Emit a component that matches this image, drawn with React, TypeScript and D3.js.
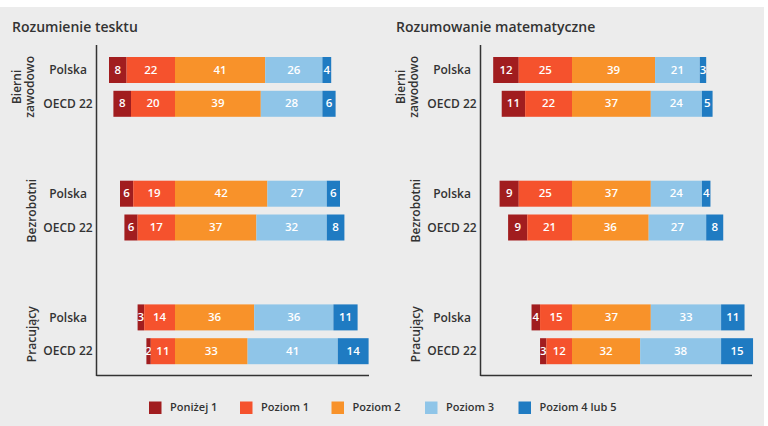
import React from "react";
import * as d3 from "d3";

const levels = ["Poniżej 1", "Poziom 1", "Poziom 2", "Poziom 3", "Poziom 4 lub 5"];
const colors = ["#a11d1f", "#f5522d", "#f8922a", "#8fc5e8", "#1f7bc2"];
const groups = [["Bierni", "zawodowo"], ["Bezrobotni"], ["Pracujący"]];
const rows = ["Polska", "OECD 22"];
const panelTitles = ["Rozumienie tesktu", "Rozumowanie matematyczne"];

// values [group][row][level]
const readingValues = [
  [[8, 22, 41, 26, 4], [8, 20, 39, 28, 6]],
  [[6, 19, 42, 27, 6], [6, 17, 37, 32, 8]],
  [[3, 14, 36, 36, 11], [2, 11, 33, 41, 14]],
];
const mathValues = [
  [[12, 25, 39, 21, 3], [11, 22, 37, 24, 5]],
  [[9, 25, 37, 24, 4], [9, 21, 36, 27, 8]],
  [[4, 15, 37, 33, 11], [3, 12, 32, 38, 15]],
];

const FONT = "'Open Sans', 'Noto Sans', sans-serif";
const TEXT = "#333333";

const panels = [
  { title: panelTitles[0], values: readingValues, x0: 0, zero: 175, unit: 2.2, axisX: 96.5, axisEnd: 369 },
  { title: panelTitles[1], values: mathValues, x0: 384, zero: 572, unit: 2.13, axisX: 480.5, axisEnd: 752 },
];

const groupY = d3.scaleLinear().domain([0, 1]).range([57, 180.7]);
const rowOffset = d3.scaleLinear().domain([0, 1]).range([0, 33.8]);
const BAR_H = 26;

const legendX = [149, 240, 331.5, 425, 518.5];

function Panel({ p }: { p: typeof panels[number] }) {
  const x = d3.scaleLinear().domain([0, 100]).range([p.zero, p.zero + 100 * p.unit]);
  return (
    <g>
      <text x={p.x0 + 12} y={32} fontFamily={FONT} fontSize={14} fontWeight={600} fill={TEXT}>
        {p.title}
      </text>
      <line x1={p.axisX} x2={p.axisX} y1={45} y2={376} stroke={TEXT} strokeWidth={1.5} />
      <line x1={p.axisX} x2={p.axisEnd} y1={375.5} y2={375.5} stroke={TEXT} strokeWidth={1.5} />
      {groups.map((g, gi) => {
        const gy = groupY(gi);
        const mid = gy + (rowOffset(1) + BAR_H) / 2;
        return (
          <g key={gi}>
            <text
              transform={`translate(${p.x0 + (g.length > 1 ? 21 : 35.5)},${mid}) rotate(-90)`}
              textAnchor="middle"
              fontFamily={FONT}
              fontSize={12}
              fontWeight={600}
              fill={TEXT}
            >
              {g.map((line, li) => (
                <tspan key={li} x={0} dy={li === 0 ? 0 : 12.5}>
                  {line}
                </tspan>
              ))}
            </text>
            {rows.map((r, ri) => {
              const vals = p.values[gi][ri];
              const y = gy + rowOffset(ri);
              let start = -(vals[0] + vals[1]);
              return (
                <g key={ri}>
                  <text
                    x={p.x0 + 68}
                    y={y + BAR_H / 2 + 1}
                    textAnchor="middle"
                    dominantBaseline="middle"
                    fontFamily={FONT}
                    fontSize={12}
                    fontWeight={600}
                    fill={TEXT}
                  >
                    {r}
                  </text>
                  {vals.map((v, li) => {
                    const s = start;
                    start += v;
                    const xa = x(s);
                    const w = x(v) - x(0);
                    return (
                      <g key={li}>
                        <rect x={xa} y={y} width={w} height={BAR_H} fill={colors[li]} />
                        <text
                          x={xa + w / 2}
                          y={y + BAR_H / 2 + 0.5}
                          textAnchor="middle"
                          dominantBaseline="middle"
                          fontFamily={FONT}
                          fontSize={11.5}
                          fontWeight={600}
                          fill="#ffffff"
                        >
                          {v}
                        </text>
                      </g>
                    );
                  })}
                </g>
              );
            })}
          </g>
        );
      })}
    </g>
  );
}

export default function App() {
  return (
    <svg width={768} height={426} style={{ position: "absolute", left: 0, top: 0 }}>
      <rect x={0} y={0} width={768} height={426} fill="#ffffff" />
      <rect x={0} y={7} width={764} height={419} fill="#ececec" />
      {panels.map((p, i) => (
        <Panel key={i} p={p} />
      ))}
      {levels.map((l, i) => (
        <g key={i}>
          <rect x={legendX[i]} y={401.5} width={12.5} height={12.5} fill={colors[i]} />
          <text
            x={legendX[i] + 21}
            y={408}
            dominantBaseline="middle"
            fontFamily={FONT}
            fontSize={11}
            fontWeight={600}
            fill={TEXT}
          >
            {l}
          </text>
        </g>
      ))}
    </svg>
  );
}
